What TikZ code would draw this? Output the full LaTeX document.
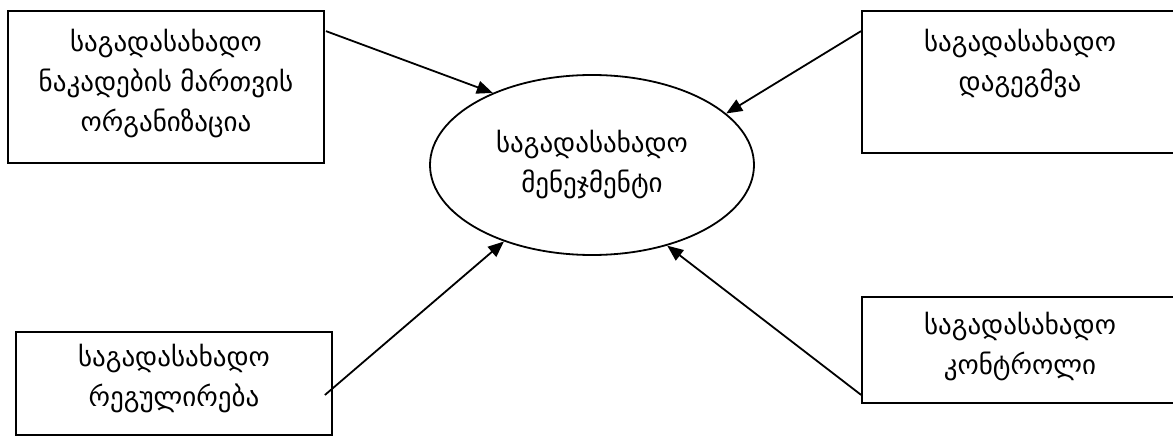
\documentclass[tikz,border=0pt]{standalone}
\usepackage{fontspec}
\setmainfont{DejaVu Sans}
\usetikzlibrary{shapes.geometric,arrows.meta,calc}
\begin{document}
\begin{tikzpicture}[x=1pt,y=1pt,
  box/.style={draw,line width=1.8pt,rectangle,inner sep=0pt,minimum width=316pt},
  lbl/.style={align=center,inner sep=0pt,anchor=north,font=\fontsize{27}{40}\selectfont},
  conn/.style={line width=1.8pt,-{Triangle[length=16pt,width=13pt]}}]
\useasboundingbox (0,0) rectangle (1173,437);
\clip (0,0) rectangle (1173,437);
\fill[white] (0,0) rectangle (1173,437);
\node[box,minimum height=152pt] (b1) at (166,350) {};
\node[box,minimum height=142pt] (b2) at (1020,355) {};
\node[box,minimum height=103pt] (b3) at (174,53.5) {};
\node[box,minimum height=106pt] (b4) at (1020,87) {};
\node[draw,ellipse,line width=1.8pt,inner sep=0pt,minimum width=324pt,minimum height=180pt,
  font=\fontsize{27}{40}\selectfont,align=center] (ell) at (592,272) {საგადასახადო\\მენეჯმენტი};
\node[lbl] (t1) at ($(b1.north)+(0,-19)$) {საგადასახადო\\ნაკადების მართვის\\ორგანიზაცია};
\node[lbl] (t2) at ($(b2.north)+(0,-19)$) {საგადასახადო\\დაგეგმვა};
\node[lbl] (t3) at ($(b3.north)+(0,-13)$) {საგადასახადო\\რეგულირება};
\node[lbl] (t4) at ($(b4.north)+(0,-16)$) {საგადასახადო\\კონტროლი};
\coordinate (s1) at ($(b1.north east)+(1,-21)$);
\coordinate (s2) at ($(b2.north west)+(0,-21)$);
\coordinate (s3) at ($(b3.east)+(-8,-11.5)$);
\coordinate (s4) at ($(b4.south west)+(0,9)$);
\draw[conn] (s1) -- (ell.144.5);
\draw[conn] (s2) -- (ell.21.7);
\draw[conn] (s3) -- (ell.221.3);
\draw[conn] (s4) -- (ell.-47.6);
\end{tikzpicture}
\end{document}
